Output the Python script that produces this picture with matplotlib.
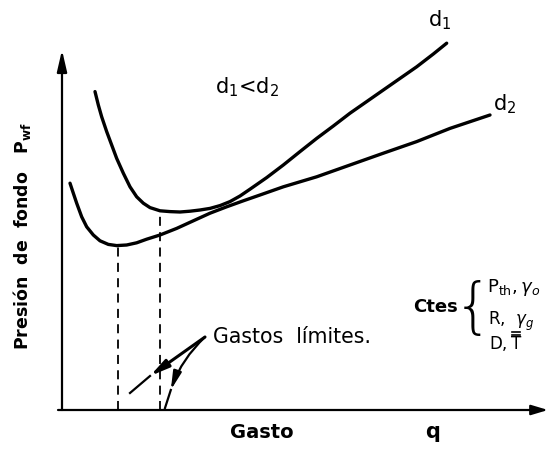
import matplotlib
import numpy as np

matplotlib.use("Agg")
from matplotlib import pyplot as plt

# flow rate q vs bottom-hole pressure p_wf for two tubing diameters (arbitrary units)
q_d1 = [0.825, 0.908, 0.992, 1.117, 1.242, 1.367, 1.533, 1.7, 1.867, 2.033,
        2.2, 2.45, 2.7, 2.95, 3.2, 3.45, 3.7, 3.95, 4.2, 4.45, 4.7, 5.117,
        5.533, 5.95, 6.367, 6.783, 7.2, 7.617, 8.033, 8.45, 8.867, 9.283, 9.617]
p_d1 = [7.96, 7.625, 7.33, 6.96, 6.625, 6.29, 5.92, 5.58, 5.33, 5.17,
        5.06, 4.98, 4.96, 4.95, 4.97, 5.0, 5.04, 5.11, 5.21, 5.35, 5.52, 5.81,
        6.125, 6.46, 6.79, 7.1, 7.42, 7.71, 8.0, 8.29, 8.58, 8.9, 9.17]

q_d2 = [0.2, 0.283, 0.367, 0.492, 0.617, 0.783, 0.95, 1.158, 1.367, 1.617,
        1.867, 2.117, 2.45, 2.867, 3.283, 3.7, 4.117, 4.533, 4.95, 5.533,
        6.367, 7.2, 8.033, 8.867, 9.7, 10.7]
p_d2 = [5.67, 5.42, 5.17, 4.83, 4.58, 4.375, 4.23, 4.14, 4.11, 4.125,
        4.18, 4.27, 4.375, 4.54, 4.73, 4.92, 5.08, 5.23, 5.375, 5.58,
        5.83, 6.125, 6.42, 6.71, 7.04, 7.375]

# limiting rates (dashed drops from each curve)
q_lim = [1.4, 2.45]

X_MAX, Y_MAX = 12.15, 10.25
INK = "black"

plt.rcParams["font.family"] = ["DejaVu Sans"]
plt.rcParams["mathtext.fontset"] = "dejavusans"

fig = plt.figure(figsize=(5.48, 4.54), dpi=100)
ax = fig.add_axes([62 / 548, 44 / 454, 486 / 548, 410 / 454])
ax.set_xlim(0, X_MAX)
ax.set_ylim(0, Y_MAX)
ax.axis("off")

# axes with arrow heads
ax.annotate("", xy=(0, 9.0), xytext=(0, 0),
            arrowprops=dict(arrowstyle="-|>,head_length=1.3,head_width=0.3",
                            color=INK, lw=1.6, shrinkA=0, shrinkB=0))
ax.annotate("", xy=(X_MAX, 0), xytext=(-0.1, 0),
            arrowprops=dict(arrowstyle="-|>,head_length=1.0,head_width=0.3",
                            color=INK, lw=1.6, shrinkA=0, shrinkB=0),
            annotation_clip=False)

ax.plot(q_d1, p_d1, color=INK, lw=2.4, solid_capstyle="round",
        solid_joinstyle="round")
ax.plot(q_d2, p_d2, color=INK, lw=2.4, solid_capstyle="round",
        solid_joinstyle="round")

for q, (qs, ps) in zip(q_lim, [(q_d2, p_d2), (q_d1, p_d1)]):
    top = np.interp(q, qs, ps)
    ax.plot([q, q], [0, top], color=INK, lw=1.3, ls=(0, (5, 3.5)))

ax.text(9.45, 9.75, "d$_1$", fontsize=15, ha="center", va="center")
ax.text(11.075, 7.65, "d$_2$", fontsize=15, ha="center", va="center")
ax.text(4.625, 8.075, "d$_1$<d$_2$", fontsize=15, ha="center", va="center")

ax.text(5.0, -0.55, "Gasto", fontsize=14, fontweight="bold",
        ha="center", va="center")
ax.text(9.275, -0.55, "q", fontsize=15, fontweight="bold",
        ha="center", va="center")
ax.text(-1.0, 4.35, "Presión  de  fondo   $\\mathregular{P_{wf}}$",
        fontsize=12.5, fontweight="bold", rotation=90, ha="center",
        va="center")

# "Gastos limites" pointers
start = (3.575, 1.825)
ax.annotate("", xy=(2.2, 0.85), xytext=start,
            arrowprops=dict(arrowstyle="-|>,head_length=1.1,head_width=0.25",
                            color=INK, lw=2.2, shrinkA=0, shrinkB=0))
ax.plot([2.2, 1.7], [0.85, 0.425], color=INK, lw=1.6)
ax.annotate("", xy=(2.72, 0.5), xytext=start,
            arrowprops=dict(arrowstyle="-|>,head_length=1.1,head_width=0.25",
                            connectionstyle="arc3,rad=0.12",
                            color=INK, lw=1.6, shrinkA=0, shrinkB=0))
ax.plot([2.72, 2.575], [0.5, 0.05], color=INK, lw=1.6)
ax.text(3.775, 1.825, "Gastos  límites.", fontsize=14.8, ha="left",
        va="center")

# constants
ax.text(8.775, 2.575, "Ctes", fontsize=13, fontweight="bold",
        ha="left", va="center")
ax.text(10.28, 2.5, "{", fontsize=44, fontweight="light",
        ha="center", va="center")
ax.text(10.62, 3.05, "$\\mathregular{P_{th}},\\gamma_o$", fontsize=13,
        ha="left", va="center")
ax.text(10.65, 2.22, "R,  $\\gamma_g$", fontsize=12, ha="left", va="center")
ax.text(10.68, 1.65, "D,", fontsize=12, ha="left", va="center")
ax.text(11.35, 1.65, "T", fontsize=12, ha="center", va="center")
# double overline on T
for bar_y in (1.88, 1.96):
    ax.plot([11.24, 11.46], [bar_y, bar_y], color=INK, lw=1.2)

fig.savefig("out.png", dpi=100)
